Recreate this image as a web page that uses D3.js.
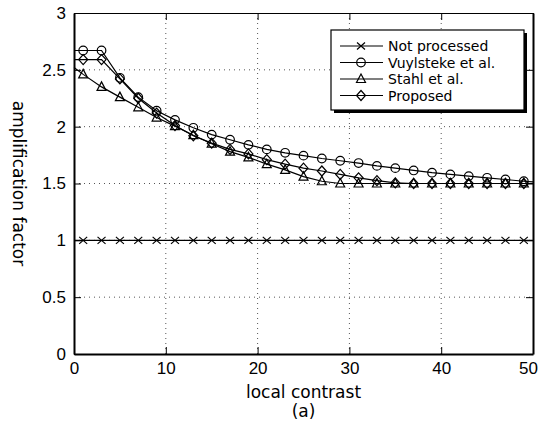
<!DOCTYPE html>
<html>
<head>
<meta charset="utf-8">
<script src="https://cdn.jsdelivr.net/npm/d3@7"></script>
<style>
  body { margin: 0; background: #fff; }
  svg { display: block; font-family: "DejaVu Sans", sans-serif; }
</style>
</head>
<body>
<script>
// data
const markerX = [1,3,5,7,9,11,13,15,17,19,21,23,25,27,29,31,33,35,37,39,41,43,45,47,49];
const notProcessed = [1,1,1,1,1,1,1,1,1,1,1,1,1,1,1,1,1,1,1,1,1,1,1,1,1];
const vuylsteke = [2.67,2.67,2.43,2.26,2.14,2.06,1.99,1.93,1.885,1.84,1.80,1.77,1.745,1.72,1.70,1.68,1.655,1.635,1.615,1.595,1.58,1.565,1.55,1.535,1.52];
const stahl = [2.46,2.35,2.26,2.17,2.08,2.005,1.925,1.85,1.78,1.73,1.67,1.62,1.56,1.52,1.50,1.50,1.50,1.50,1.50,1.50,1.50,1.50,1.50,1.50,1.50];
const proposed = [2.59,2.59,2.42,2.25,2.12,2.01,1.92,1.855,1.80,1.76,1.71,1.67,1.635,1.61,1.58,1.55,1.525,1.505,1.50,1.50,1.50,1.50,1.50,1.50,1.50];
// line values at the frame edges (x = 0 and x = 50)
const startValues = [1, 2.67, 2.52, 2.59];
const endValues = [1, 1.515, 1.50, 1.50];
const seriesNames = ["Not processed", "Vuylsteke et al.", "Stahl et al.", "Proposed"];
const xTicks = [0,10,20,30,40,50];
const yTicks = [0,0.5,1,1.5,2,2.5,3];

const width = 539, height = 433;
const margin = {left: 74, right: 6, top: 13, bottom: 79};

const svg = d3.select("body").append("svg")
    .attr("width", width)
    .attr("height", height);

const x = d3.scaleLinear().domain([0, 50]).range([margin.left, width - margin.right]);
const y = d3.scaleLinear().domain([0, 3]).range([height - margin.bottom, margin.top]);

// grid
svg.append("g").selectAll("line.gx")
    .data(xTicks.slice(1, -1))
    .enter().append("line")
    .attr("x1", d => x(d)).attr("x2", d => x(d))
    .attr("y1", y(0)).attr("y2", y(3))
    .attr("stroke", "#555").attr("stroke-width", 1)
    .attr("stroke-dasharray", "1,4");
svg.append("g").selectAll("line.gy")
    .data(yTicks.slice(1, -1))
    .enter().append("line")
    .attr("x1", x(0)).attr("x2", x(50))
    .attr("y1", d => y(d)).attr("y2", d => y(d))
    .attr("stroke", "#555").attr("stroke-width", 1)
    .attr("stroke-dasharray", "1,4");

// axes with inward ticks
svg.append("g")
    .attr("transform", `translate(0, ${y(0)})`)
    .call(d3.axisBottom(x).tickValues(xTicks).tickSizeInner(-7).tickSizeOuter(0).tickPadding(8))
    .call(g => g.select(".domain").attr("stroke-width", 2))
    .call(g => g.selectAll(".tick text").filter(d => d === 50).attr("dx", -5));
svg.append("g")
    .attr("transform", `translate(${x(0)}, 0)`)
    .call(d3.axisLeft(y).tickValues(yTicks).tickFormat(d3.format("")).tickSizeInner(-7).tickSizeOuter(0).tickPadding(8))
    .call(g => g.select(".domain").attr("stroke-width", 2));
svg.append("g")
    .attr("transform", `translate(0, ${y(3)})`)
    .call(d3.axisTop(x).tickValues(xTicks).tickSizeInner(-7).tickSizeOuter(0).tickFormat(""));
svg.append("g")
    .attr("transform", `translate(${x(50)}, 0)`)
    .call(d3.axisRight(y).tickValues(yTicks).tickSizeInner(-7).tickSizeOuter(0).tickFormat(""))
    .call(g => g.select(".domain").attr("stroke-width", 2));

svg.selectAll(".tick text")
    .attr("font-size", 17)
    .attr("fill", "#000");

// labels
svg.append("text")
    .attr("x", (x(0) + x(50)) / 2).attr("y", 398)
    .attr("text-anchor", "middle").attr("font-size", 17)
    .text("local contrast");
svg.append("text")
    .attr("x", (x(0) + x(50)) / 2).attr("y", 417)
    .attr("text-anchor", "middle").attr("font-size", 17)
    .text("(a)");
svg.append("text")
    .attr("transform", `translate(13, ${y(1.5)}) rotate(90)`)
    .attr("text-anchor", "middle").attr("font-size", 17)
    .text("amplification factor");

// markers
const symbols = [
    (g, cx, cy) => g.append("path").attr("d", `M${cx-4},${cy-3.5}L${cx+4},${cy+3.5}M${cx-4},${cy+3.5}L${cx+4},${cy-3.5}`),
    (g, cx, cy) => g.append("circle").attr("cx", cx).attr("cy", cy).attr("r", 4.3),
    (g, cx, cy) => g.append("path").attr("d", `M${cx},${cy-5}L${cx+4.5},${cy+3.5}L${cx-4.5},${cy+3.5}Z`),
    (g, cx, cy) => g.append("path").attr("d", `M${cx},${cy-5}L${cx+4.5},${cy}L${cx},${cy+5}L${cx-4.5},${cy}Z`)
];

const allSeries = [notProcessed, vuylsteke, stahl, proposed];
const line = d3.line().x(d => x(d[0])).y(d => y(d[1]));

allSeries.forEach((vals, i) => {
    const pts = [[0, startValues[i]]]
        .concat(markerX.map((d, j) => [d, vals[j]]))
        .concat([[50, endValues[i]]]);
    svg.append("path")
        .datum(pts)
        .attr("fill", "none").attr("stroke", "#000").attr("stroke-width", 1.2)
        .attr("d", line);
    const g = svg.append("g").attr("fill", "none").attr("stroke", "#000").attr("stroke-width", 1.2);
    markerX.forEach((d, j) => symbols[i](g, x(d), y(vals[j])));
});

// legend
const lg = svg.append("g").attr("transform", "translate(331, 30)");
lg.append("rect").attr("x", 3).attr("y", 3).attr("width", 193).attr("height", 80).attr("fill", "#000");
lg.append("rect").attr("x", 0).attr("y", 0).attr("width", 193).attr("height", 80)
    .attr("fill", "#fff").attr("stroke", "#000").attr("stroke-width", 1.2);
seriesNames.forEach((name, i) => {
    const ly = 16 + i * 16.5;
    lg.append("line").attr("x1", 9).attr("x2", 52).attr("y1", ly).attr("y2", ly)
        .attr("stroke", "#000").attr("stroke-width", 1.2);
    const g = lg.append("g").attr("fill", "none").attr("stroke", "#000").attr("stroke-width", 1.2);
    symbols[i](g, 30, ly);
    lg.append("text").attr("x", 57).attr("y", ly + 5).attr("font-size", 14).text(name);
});
</script>
</body>
</html>
